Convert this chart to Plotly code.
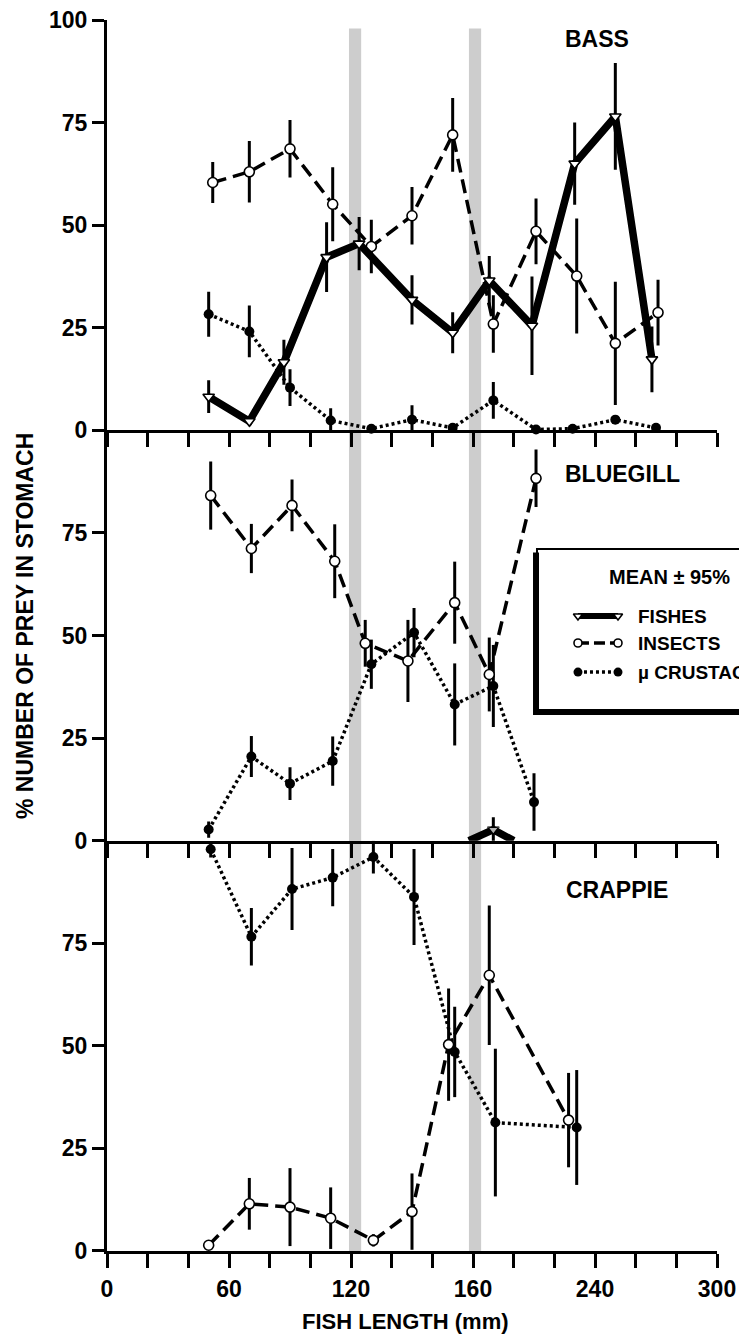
import plotly.graph_objects as go

# ---- data: % number of prey in stomach, mean and 95% half-width, by fish length (mm)
# BASS
bass_fish_x = [50, 70, 87, 108, 124, 150, 170, 188, 209, 230, 250, 268]
bass_fish_y = [8.2, 2.2, 16.6, 42.2, 45.5, 31.8, 23.8, 36.5, 25.5, 65.0, 76.5, 17.3]
bass_fish_e = [4, 0, 5.5, 8.5, 6.5, 6, 5, 6, 12, 10, 13, 8]

bass_ins_x = [52, 70, 90, 111, 130, 150, 170, 190, 211, 231, 250, 271]
bass_ins_y = [60.4, 63.0, 68.6, 55.1, 44.8, 52.3, 72.0, 25.9, 48.5, 37.6, 21.2, 28.7]
bass_ins_e = [5, 7.5, 7, 9, 6.5, 7, 9, 7, 8, 14, 15, 8]

bass_cru_x = [50, 70, 90, 110, 130, 150, 170, 190, 211, 229, 250, 270]
bass_cru_y = [28.3, 24.1, 10.4, 2.4, 0.4, 2.6, 0.6, 7.3, 0.2, 0.4, 2.6, 0.6]
bass_cru_e = [5.5, 6.3, 4.5, 3, 0, 3.5, 0, 4.5, 0, 0, 0, 0]

# BLUEGILL
blue_fish_x = [178, 190, 200]
blue_fish_y = [0, 2.7, 0]
blue_fish_e = [0, 3, 0]

blue_ins_x = [51, 71, 91, 112, 127, 148, 171, 188, 211]
blue_ins_y = [84.1, 71.2, 81.7, 68.1, 48.1, 43.8, 58.0, 40.5, 88.3]
blue_ins_e = [8.3, 6, 6.3, 9, 5.7, 10, 10, 9, 7]

blue_cru_x = [50, 71, 90, 111, 130, 151, 171, 190, 210]
blue_cru_y = [2.7, 20.5, 13.9, 19.4, 43.0, 50.7, 33.2, 37.7, 9.4]
blue_cru_e = [2, 5, 4, 6, 6, 6, 10, 10, 7]

# CRAPPIE
crap_ins_x = [50, 70, 90, 110, 131, 150, 168, 188, 227]
crap_ins_y = [1.4, 11.5, 10.7, 8.0, 2.6, 9.6, 50.3, 67.2, 31.9]
crap_ins_e = [0, 6.3, 9.5, 7.5, 1.5, 9.3, 13.7, 17, 11.5]

crap_cru_x = [51, 71, 91, 111, 131, 151, 171, 191, 231]
crap_cru_y = [97.9, 76.6, 88.2, 91.0, 96.0, 86.3, 48.5, 31.3, 30.1]
crap_cru_e = [2, 7, 10, 7, 4, 11.7, 11, 18, 14]

# shaded length classes (mm)
bands = [(119, 125), (178, 184)]

# axis ticks
x_tickvals = list(range(0, 301, 20))
x_labels = {0: "0", 60: "60", 120: "120", 180: "160", 240: "240", 300: "300"}
y_ticks_top = [0, 25, 50, 75, 100]
y_ticks = [0, 25, 50, 75]

panel_names = ["BASS", "BLUEGILL", "CRAPPIE"]

FONT = "Liberation Sans"

# ---- styles
FISH = dict(line=dict(color="black", width=7.5),
            marker=dict(symbol="triangle-down", size=10, color="white",
                        line=dict(color="black", width=1.6)))
INS = dict(line=dict(color="black", width=3.5, dash="14px,7px"),
           marker=dict(symbol="circle", size=10, color="white",
                       line=dict(color="black", width=1.6)))
CRU = dict(line=dict(color="black", width=3.5, dash="3px,3px"),
           marker=dict(symbol="circle", size=10, color="black",
                       line=dict(color="black", width=0)))


def series(x, y, e, style, ax, show_marker=None):
    mk = dict(style["marker"])
    if show_marker is not None:
        mk["size"] = [mk["size"] if s else 0 for s in show_marker]
    return go.Scatter(
        x=x, y=y, mode="lines+markers",
        line=style["line"], marker=mk,
        error_y=dict(type="data", array=e, visible=True, color="black",
                     thickness=3, width=0),
        xaxis="x" + ax, yaxis="y" + ax, cliponaxis=False,
        showlegend=False, hoverinfo="skip",
    )


fig = go.Figure()
# top panel (axis suffix "")
fig.add_trace(series(bass_cru_x, bass_cru_y, bass_cru_e, CRU, ""))
fig.add_trace(series(bass_ins_x, bass_ins_y, bass_ins_e, INS, ""))
fig.add_trace(series(bass_fish_x, bass_fish_y, bass_fish_e, FISH, ""))
# middle panel
fig.add_trace(series(blue_cru_x, blue_cru_y, blue_cru_e, CRU, "2"))
fig.add_trace(series(blue_ins_x, blue_ins_y, blue_ins_e, INS, "2"))
fig.add_trace(series(blue_fish_x, blue_fish_y, blue_fish_e, FISH, "2",
                     show_marker=[v > 0 for v in blue_fish_y]))
# bottom panel
fig.add_trace(series(crap_cru_x, crap_cru_y, crap_cru_e, CRU, "3"))
fig.add_trace(series(crap_ins_x, crap_ins_y, crap_ins_e, INS, "3"))

# ---- legend key samples on an invisible full-area axis pair (0..1 both ways)
key_x = [0.7721, 0.8377]
key_rows = [(0.5158, FISH, "FISHES"), (0.4939, INS, "INSECTS"),
            (0.4703, CRU, "\u00b5 CRUSTACEANS")]
for ky, st, _ in key_rows:
    mk = dict(st["marker"])
    mk["size"] = 8 if st is not CRU else 9
    ln = dict(st["line"])
    if st is FISH:
        ln["width"] = 6
    if st is INS:
        ln["dash"] = "11px,5px"
    fig.add_trace(go.Scatter(x=key_x, y=[ky, ky], mode="lines+markers",
                             line=ln, marker=mk, xaxis="x4", yaxis="y4",
                             cliponaxis=False, showlegend=False,
                             hoverinfo="skip"))

# ---- axes
tick_font = dict(family=FONT, size=23, color="black", weight="bold")
common_x = dict(range=[0, 300], showline=True, linecolor="black", linewidth=3,
                ticks="outside", ticklen=14, tickwidth=2.5, tickcolor="black",
                tickvals=x_tickvals, showgrid=False, zeroline=False,
                automargin=False, fixedrange=True)
common_y = dict(range=[0, 100], showline=True, linecolor="black", linewidth=3,
                ticks="outside", ticklen=12, tickwidth=2.5, tickcolor="black",
                showgrid=False, zeroline=False, tickfont=tick_font,
                automargin=False, fixedrange=True)

third = 1.0 / 3.0
layout = dict(
    width=739, height=1336,
    margin=dict(l=107, r=22, t=20, b=85),
    paper_bgcolor="white", plot_bgcolor="rgba(0,0,0,0)",
    font=dict(family=FONT, color="black"),
    xaxis=dict(common_x, anchor="y", domain=[0, 1], showticklabels=False),
    xaxis2=dict(common_x, anchor="y2", domain=[0, 1], showticklabels=False),
    xaxis3=dict(common_x, anchor="y3", domain=[0, 1], showticklabels=True,
                ticktext=[x_labels.get(v, "") for v in x_tickvals],
                tickfont=tick_font, ticklabelstandoff=1),
    yaxis=dict(common_y, anchor="x", domain=[2 * third, 1],
               tickvals=y_ticks_top, ticktext=[str(v) for v in y_ticks_top]),
    yaxis2=dict(common_y, anchor="x2", domain=[third, 2 * third],
                tickvals=y_ticks, ticktext=[str(v) for v in y_ticks]),
    yaxis3=dict(common_y, anchor="x3", domain=[0, third],
                tickvals=y_ticks, ticktext=[str(v) for v in y_ticks]),
    xaxis4=dict(range=[0, 1], domain=[0, 1], visible=False, anchor="y4",
                fixedrange=True),
    yaxis4=dict(range=[0, 1], domain=[0, 1], visible=False, anchor="x4",
                fixedrange=True),
)
fig.update_layout(**layout)

shapes = []
# stippled length-class bands across all three panels
for x0, x1 in bands:
    shapes.append(dict(type="rect", xref="x", yref="paper", x0=x0, x1=x1,
                       y0=0, y1=0.993, fillcolor="#cdcdcd",
                       line=dict(width=0), layer="below"))
# legend box with heavy left/bottom edges
shapes.append(dict(type="rect", xref="paper", yref="paper",
                   x0=0.7049, x1=1.08, y0=0.4379, y1=0.5703,
                   fillcolor="white", line=dict(color="black", width=2),
                   layer="below"))
shapes.append(dict(type="line", xref="paper", yref="paper",
                   x0=0.7033, x1=0.7033, y0=0.4355, y1=0.5675,
                   line=dict(color="black", width=6), layer="below"))
shapes.append(dict(type="line", xref="paper", yref="paper",
                   x0=0.7033, x1=1.08, y0=0.4379, y1=0.4379,
                   line=dict(color="black", width=6), layer="below"))
fig.update_layout(shapes=shapes)

BOLD = dict(family=FONT, color="black", weight="bold")
ann = []
ann.append(dict(text="MEAN \u00b1 95%", x=0.8197, y=0.5475, xref="paper",
                yref="paper", xanchor="left", yanchor="middle",
                showarrow=False, font=dict(BOLD, size=20)))
for ky, _, label in key_rows:
    ann.append(dict(text=label, x=0.867, y=ky, xref="paper", yref="paper",
                    xanchor="left", yanchor="middle", showarrow=False,
                    font=dict(BOLD, size=19)))
# panel names
for name, (px, py) in zip(panel_names, [(0.8033, 0.9846), (0.8459, 0.6312),
                                         (0.8361, 0.2933)]):
    ann.append(dict(text=name, x=px, y=py, xref="paper",
                    yref="paper", xanchor="center", yanchor="middle",
                    showarrow=False, font=dict(BOLD, size=23)))
# axis titles
ann.append(dict(text="% NUMBER OF PREY IN STOMACH", x=-0.1344, y=0.5077,
                xref="paper", yref="paper", textangle=-90, xanchor="center",
                yanchor="middle", showarrow=False, font=dict(BOLD, size=23)))
ann.append(dict(text="FISH LENGTH (mm)", x=0.490, y=-0.057, xref="paper",
                yref="paper", xanchor="center", yanchor="middle",
                showarrow=False, font=dict(BOLD, size=22)))
fig.update_layout(annotations=ann)

fig.write_html("out.html")
